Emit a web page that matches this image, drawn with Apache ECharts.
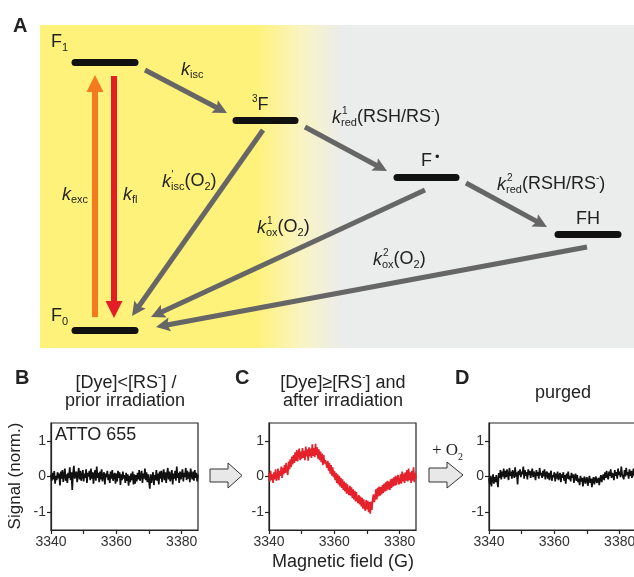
<!DOCTYPE html>
<html><head><meta charset="utf-8">
<script src="https://cdn.jsdelivr.net/npm/echarts@6/dist/echarts.min.js"></script>
<style>html,body{margin:0;padding:0;background:#fff}#c{width:634px;height:577px}</style>
</head><body><div id="c"></div>
<script>
// ---------- DATA ----------
const fieldStart = 3340, fieldStep = 0.25;           // magnetic field sampling (G)
const xTickValues = [3340, 3350, 3360, 3370, 3380];
const xLabelValues = [3340, 3360, 3380];
const yLabelValues = [-1, 0, 1];

// Panel B: [Dye]<[RS-] / prior irradiation (ATTO 655)
const signalB = [
 0.05,-0.12,0.10,-0.08,0.15,-0.20,0.02,-0.10,0.12,-0.05,
 0.08,-0.25,0.14,-0.06,0.18,-0.15,0.04,0.22,-0.12,0.06,
 -0.18,0.10,-0.04,0.26,-0.10,0.12,-0.38,0.08,0.30,-0.06,
 -0.06,0.14,-0.16,0.05,0.24,-0.08,0.16,-0.12,0.02,0.18,
 -0.14,0.08,-0.04,0.20,-0.18,0.10,0.00,0.16,-0.10,0.22,
 -0.06,0.12,-0.20,0.06,0.18,-0.12,0.28,-0.04,0.10,-0.16,
 0.14,-0.08,0.20,-0.14,0.04,0.12,-0.22,0.08,-0.02,0.16,
 -0.10,0.06,-0.18,0.14,-0.06,0.18,-0.12,0.02,0.10,-0.20,
 0.08,-0.14,0.16,-0.04,0.12,-0.24,0.06,-0.10,0.14,-0.06,
 0.04,-0.18,0.10,-0.12,0.06,-0.26,0.02,-0.16,0.08,-0.10,
 0.14,-0.22,0.06,-0.20,0.04,-0.14,0.10,-0.08,0.18,-0.12,
 0.02,0.16,-0.18,0.08,-0.06,0.22,-0.10,0.12,-0.16,0.06,
 0.10,-0.34,0.06,-0.18,-0.02,0.12,-0.24,0.04,-0.10,0.18,
 -0.12,0.08,-0.22,0.14,-0.06,0.16,-0.16,0.04,0.20,-0.10,
 0.12,-0.18,0.06,0.24,-0.08,0.14,-0.14,0.02,0.18,-0.22,
 0.08,-0.06,0.16,-0.12,0.28,-0.04,0.10,-0.18,0.14,-0.08,
 0.06,0.20,-0.14,0.10,-0.02,0.24,-0.10,0.16,-0.06,0.12,
 -0.16,0.22,0.04,-0.08,0.14,-0.12,0.18,-0.04,0.10,-0.14,
 0.06
];
// Panel C: [Dye]>=[RS-] and after irradiation (radical EPR signal)
const signalC = [
 0.10,-0.14,0.16,-0.10,0.06,-0.18,0.12,-0.08,0.20,-0.12,
 0.00,0.22,-0.10,0.16,0.02,0.28,-0.04,0.24,0.06,0.32,
 0.10,0.38,0.16,0.04,0.42,0.20,0.48,0.26,0.56,0.34,
 0.60,0.38,0.68,0.44,0.74,0.42,0.64,0.78,0.46,0.70,
 0.50,0.80,0.52,0.72,0.46,0.84,0.56,0.76,0.44,0.82,
 0.56,0.78,0.52,0.90,0.58,0.80,0.54,0.92,0.60,0.82,
 0.50,0.76,0.46,0.70,0.40,0.64,0.32,0.60,0.36,0.46,
 0.50,0.24,0.44,0.16,0.38,0.08,0.32,0.02,0.26,-0.02,
 0.16,-0.10,0.10,-0.18,0.06,-0.22,0.02,-0.28,-0.04,-0.32,
 -0.08,-0.38,-0.14,-0.42,-0.18,-0.48,-0.22,-0.44,-0.52,-0.26,
 -0.54,-0.30,-0.60,-0.36,-0.64,-0.40,-0.70,-0.44,-0.66,-0.74,
 -0.52,-0.78,-0.56,-0.84,-0.60,-0.90,-0.64,-0.86,-0.96,-0.66,
 -0.92,-0.68,-1.00,-0.72,-1.04,-0.70,-0.94,-0.62,-0.50,-0.72,
 -0.60,-0.36,-0.64,-0.32,-0.56,-0.28,-0.54,-0.30,-0.50,-0.24,
 -0.46,-0.20,-0.42,-0.16,-0.40,-0.12,-0.36,-0.14,-0.38,-0.08,
 -0.32,-0.06,-0.28,-0.02,-0.26,0.02,-0.24,-0.04,0.04,-0.22,
 -0.16,0.06,-0.20,0.14,-0.14,0.08,-0.18,0.12,-0.12,0.18,
 -0.14,0.22,-0.10,0.12,-0.18,0.16,-0.12,0.26,-0.16,0.10,
 -0.06
];
// Panel D: purged
const signalD = [
 -0.05,-0.22,0.02,-0.28,-0.08,0.06,-0.20,-0.02,-0.16,0.04,
 -0.12,-0.30,0.10,-0.04,0.18,-0.08,0.14,0.00,0.22,-0.06,
 0.16,-0.02,0.20,0.04,-0.10,0.24,0.02,0.14,-0.06,0.18,
 0.08,-0.04,0.26,0.00,0.12,-0.22,0.16,0.04,0.20,-0.02,
 0.14,0.06,0.28,-0.06,0.18,0.02,0.12,-0.08,0.20,0.04,
 0.16,-0.04,0.10,0.22,-0.02,0.14,0.06,-0.10,0.18,0.02,
 0.12,-0.06,0.24,0.04,0.10,-0.04,0.16,0.00,0.20,-0.08,
 0.08,0.14,-0.06,0.10,-0.10,0.06,0.16,-0.12,0.04,-0.02,
 0.12,-0.14,0.08,-0.06,0.14,-0.10,0.02,0.10,-0.16,0.06,
 -0.04,0.12,-0.12,0.04,-0.20,0.08,-0.06,0.14,-0.08,0.02,
 -0.14,0.10,-0.04,0.06,-0.18,0.00,0.08,-0.12,0.04,-0.16,
 -0.06,-0.24,0.02,-0.14,-0.04,-0.28,-0.08,0.00,-0.20,-0.10,
 -0.02,-0.26,-0.12,0.02,-0.18,-0.06,-0.30,-0.10,-0.02,-0.22,
 -0.08,0.00,-0.18,-0.12,-0.04,-0.24,-0.06,0.04,-0.16,-0.02,
 0.06,-0.10,0.12,-0.04,0.16,0.00,-0.08,0.14,0.02,0.20,
 -0.04,0.10,0.04,-0.10,0.18,0.02,0.12,-0.06,0.22,0.04,
 0.14,-0.02,0.28,0.06,0.10,-0.08,0.18,0.00,0.24,0.04,
 0.12,-0.06,0.20,0.02,0.16,-0.04,0.10,0.22,0.00,0.14,
 0.06
];

// Jablonski scheme (panel A): states and transitions
const schemeStates = ['F1', '3F', 'F\u2022', 'FH', 'F0'];
const grayTransitions = ['kisc', 'kred1', 'kred2', "k'isc", 'kox1', 'kox2'];

// ---------- LAYOUT (diagram geometry, pixel space of the hidden grid) ----------
const stateGeom = { 'F1':[75,135,62], '3F':[236,295,120], 'F\u2022':[397,456,177], 'FH':[558,618,234], 'F0':[75,135,330] };
const transGeom = {
  'kisc':  [[145,70],[227,113]],
  'kred1': [[305,127],[387,171]],
  'kred2': [[466,183],[547,227]],
  "k'isc": [[263,130],[132,316]],
  'kox1':  [[425,190],[151,317]],
  'kox2':  [[587,247],[156,327]]
};
const excGeom = [[95,317],[95,75]];
const flGeom  = [[114,76],[114,318]];

const FONT = 'Liberation Sans, Arial, Helvetica, sans-serif';
const INK = '#222';

function richStyles(size) {
  return {
    m: {fontSize:size, lineHeight:22, fontFamily:FONT, fill:INK},
    k: {fontSize:size, lineHeight:22, fontFamily:FONT, fontStyle:'italic', fill:INK},
    b: {fontSize:11, lineHeight:11, fontFamily:FONT, verticalAlign:'bottom', fill:INK},
    t: {fontSize:10, lineHeight:10, fontFamily:FONT, verticalAlign:'top', fill:INK},
    d: {fontSize:13, lineHeight:10, fontFamily:FONT, verticalAlign:'top', fill:INK, padding:[0,0,0,3]},
    s: {fontSize:17, lineHeight:22, fontFamily:'Liberation Serif, Times New Roman, serif', fill:INK},
    sb:{fontSize:10, lineHeight:10, fontFamily:'Liberation Serif, Times New Roman, serif', verticalAlign:'bottom', fill:INK}
  };
}
function txt(x, y, text, o) {
  o = o || {};
  const size = o.size || 18;
  return {type:'text', x:x, y:y, z:100, silent:true, rotation:o.rotation||0,
    style:{text:text, rich:richStyles(size), align:o.align||'left', verticalAlign:'middle',
      fill:INK, fontFamily:FONT, fontSize:size, fontWeight:o.bold?'bold':'normal'}};
}
function shorten(from, tip, head) {
  const dx = tip[0]-from[0], dy = tip[1]-from[1], L = Math.hypot(dx, dy);
  return [tip[0]-dx/L*head/2, tip[1]-dy/L*head/2];
}

const labelsA = [
  txt(13, 26, 'A', {bold:true, size:20}),
  txt(51, 42, '{m|F}{b|1}'),
  txt(181, 69.5, '{k|k}{b|isc}'),
  txt(252, 105.5, '{t|3}{m|F}'),
  txt(332, 117.5, '{k|k}{b|red}{m|(RSH/RS}{t|-}{m|)}'),
  txt(342, 111, '{t|1}'),
  txt(421, 161.5, '{m|F}{d|\u2022}'),
  txt(497, 184.5, '{k|k}{b|red}{m|(RSH/RS}{t|-}{m|)}'),
  txt(507, 178, '{t|2}'),
  txt(576, 219.5, '{m|FH}'),
  txt(162, 181.5, '{k|k}{b|isc}{m|(O}{b|2}{m|)}'),
  txt(171.5, 175, "{t|'}"),
  txt(62, 194.5, '{k|k}{b|exc}'),
  txt(123, 194.5, '{k|k}{b|fl}'),
  txt(257, 227.5, '{k|k}{b|ox}{m|(O}{b|2}{m|)}'),
  txt(267, 221, '{t|1}'),
  txt(373, 259.5, '{k|k}{b|ox}{m|(O}{b|2}{m|)}'),
  txt(383, 253, '{t|2}'),
  txt(51, 316, '{m|F}{b|0}')
];
const labelsBottom = [
  txt(15, 378.5, 'B', {bold:true, size:20}),
  txt(235, 378.5, 'C', {bold:true, size:20}),
  txt(455, 378.5, 'D', {bold:true, size:20}),
  txt(126, 383, '{m|[Dye]<[RS}{t|-}{m|] /}', {align:'center'}),
  txt(125, 401, '{m|prior irradiation}', {align:'center'}),
  txt(343, 383, '{m|[Dye]\u2265[RS}{t|-}{m|] and}', {align:'center'}),
  txt(343, 401, '{m|after irradiation}', {align:'center'}),
  txt(563, 393, '{m|purged}', {align:'center'}),
  txt(55, 435, '{m|ATTO 655}'),
  txt(343, 562, '{m|Magnetic field (G)}', {align:'center'}),
  txt(15, 476, 'Signal (norm.)', {align:'center', size:17, rotation:Math.PI/2}),
  txt(432, 451, '{s|+ O}{sb|2}')
];
function blockArrow(x0, xh, x1, yt, yb, ht, hb) {
  const ym = (ht + hb) / 2;
  return {type:'polygon', z:50, silent:true,
    shape:{points:[[x0,yt],[xh,yt],[xh,ht],[x1,ym],[xh,hb],[xh,yb],[x0,yb]]},
    style:{fill:'#e8e8e8', stroke:'#333', lineWidth:1}};
}

const fields = signalB.map((_, i) => fieldStart + i * fieldStep);
const toPairs = arr => arr.map((v, i) => [fields[i], v]);

const panelGrids = [
  {left:51, top:423, width:147, height:107},
  {left:269, top:423, width:147, height:107},
  {left:489, top:423, width:147, height:107}
];
const grids = [{left:0, top:0, width:634, height:577, show:false, outerBoundsMode:'none'}]
  .concat(panelGrids.map(g => Object.assign({show:true, borderColor:'#222', borderWidth:1.2, backgroundColor:'transparent', outerBoundsMode:'none'}, g)));

const axisCommon = {
  axisLine:{show:true, onZero:false, lineStyle:{color:'#222', width:1.2}},
  axisTick:{show:true, inside:false, length:4, lineStyle:{color:'#222', width:1.2}},
  splitLine:{show:false},
  axisLabel:{fontSize:14, color:'#333', fontFamily:FONT, margin:5, formatter:v => String(v)}
};
const xAxes = [{type:'value', gridIndex:0, min:0, max:634, show:false}];
const yAxes = [{type:'value', gridIndex:0, min:0, max:577, inverse:true, show:false}];
for (let i = 1; i <= 3; i++) {
  const xa = echarts.util.clone(axisCommon), ya = echarts.util.clone(axisCommon);
  xa.axisLabel.formatter = v => String(v); ya.axisLabel.formatter = v => String(v);
  xa.axisTick.customValues = xTickValues; xa.axisLabel.customValues = xLabelValues;
  ya.axisTick.customValues = yLabelValues; ya.axisLabel.customValues = yLabelValues;
  xAxes.push(Object.assign({type:'value', gridIndex:i, min:3340, max:3385}, xa));
  yAxes.push(Object.assign({type:'value', gridIndex:i, min:-1.5, max:1.5}, ya));
}

const grayHead = 14, colorHead = 17;
const series = [
  {type:'lines', coordinateSystem:'cartesian2d', xAxisIndex:0, yAxisIndex:0, silent:true, z:5,
    symbol:['none','none'],
    lineStyle:{color:'#111', width:7, opacity:1, cap:'round', curveness:0},
    data: schemeStates.map(s => ({coords:[[stateGeom[s][0], stateGeom[s][2]], [stateGeom[s][1], stateGeom[s][2]]]}))},
  {type:'lines', coordinateSystem:'cartesian2d', xAxisIndex:0, yAxisIndex:0, silent:true, z:4,
    symbol:['none','path://M7,0 L14,14 L7,11.5 L0,14 Z'], symbolSize:grayHead,
    lineStyle:{color:'#666', width:5, opacity:1, cap:'butt', curveness:0},
    data: grayTransitions.map(k => ({coords:[transGeom[k][0], shorten(transGeom[k][0], transGeom[k][1], grayHead)]}))},
  {type:'lines', coordinateSystem:'cartesian2d', xAxisIndex:0, yAxisIndex:0, silent:true, z:4,
    symbol:['none','path://M8,0 L16,16 L0,16 Z'], symbolSize:colorHead,
    lineStyle:{color:'#F47A20', width:6, opacity:1, cap:'butt', curveness:0},
    data:[{coords:[excGeom[0], shorten(excGeom[0], excGeom[1], colorHead)]}]},
  {type:'lines', coordinateSystem:'cartesian2d', xAxisIndex:0, yAxisIndex:0, silent:true, z:4,
    symbol:['none','path://M8,0 L16,16 L0,16 Z'], symbolSize:colorHead,
    lineStyle:{color:'#E31E26', width:6, opacity:1, cap:'butt', curveness:0},
    data:[{coords:[flGeom[0], shorten(flGeom[0], flGeom[1], colorHead)]}]},
  {type:'line', xAxisIndex:1, yAxisIndex:1, data:toPairs(signalB), showSymbol:false, symbol:'none',
    lineStyle:{color:'#111', width:1.7}, clip:true},
  {type:'line', xAxisIndex:2, yAxisIndex:2, data:toPairs(signalC), showSymbol:false, symbol:'none',
    lineStyle:{color:'#E5212B', width:1.7}, clip:true},
  {type:'line', xAxisIndex:3, yAxisIndex:3, data:toPairs(signalD), showSymbol:false, symbol:'none',
    lineStyle:{color:'#111', width:1.7}, clip:true}
];

const bg = {type:'rect', z:-10, silent:true, shape:{x:40, y:25, width:594, height:323},
  style:{fill:new echarts.graphic.LinearGradient(0,0,1,0,[
    {offset:0, color:'#FFF27A'}, {offset:0.365, color:'#FFF27A'},
    {offset:0.44, color:'#F9F4C2'}, {offset:0.51, color:'#EBECEC'}, {offset:1, color:'#EBECEC'}])}};

const chart = echarts.init(document.getElementById('c'), null, {renderer:'canvas'});
chart.setOption({
  animation:false,
  backgroundColor:'#fff',
  grid:grids, xAxis:xAxes, yAxis:yAxes, series:series,
  graphic:{elements:[bg].concat(labelsA, labelsBottom, [
    blockArrow(210, 228, 242, 469, 482, 463, 488),
    blockArrow(429, 447, 463, 468, 482, 462, 488)
  ])}
});
</script></body></html>
